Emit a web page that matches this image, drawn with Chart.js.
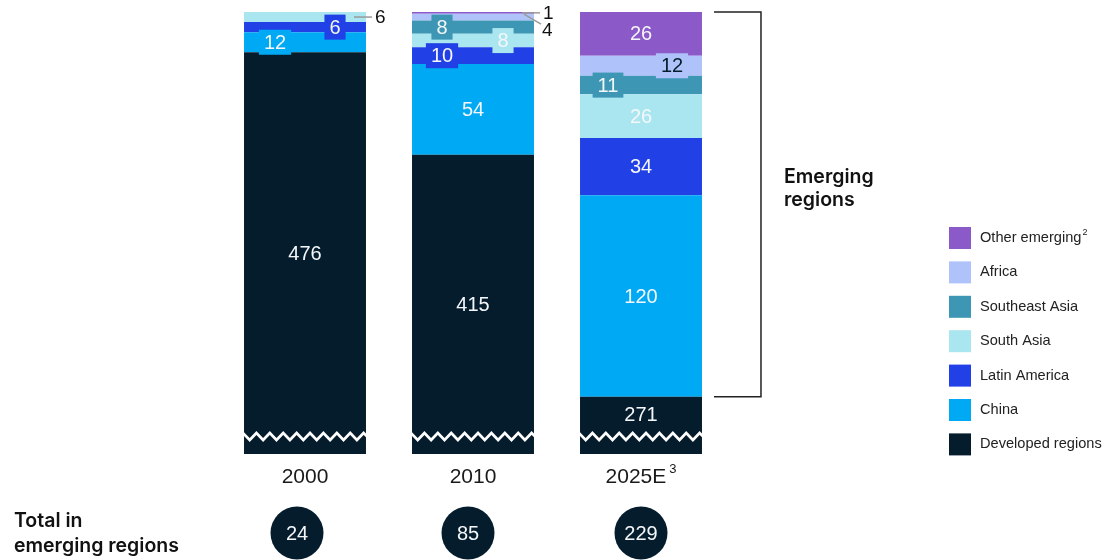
<!DOCTYPE html>
<html>
<head>
<meta charset="utf-8">
<script src="https://cdn.jsdelivr.net/npm/chart.js@4.4.0/dist/chart.umd.min.js"></script>
<style>
  html, body { margin: 0; padding: 0; background: #fff; }
  #wrap { width: 1117px; height: 560px; position: relative; }
</style>
</head>
<body>
<div id="wrap"><canvas id="chart" width="1117" height="560"></canvas></div>
<script>
// Datos del gráfico (millones, por región)
const years = ["2000", "2010", "2025E"];
const yearNotes = ["", "", "3"];
const developed = [476, 415, 271];
const china = [12, 54, 120];
const latinAmerica = [6, 10, 34];
const southAsia = [6, 8, 26];
const southeastAsia = [0, 8, 11];
const africa = [0, 4, 12];
const otherEmerging = [0, 1, 26];
const totalEmerging = [24, 85, 229];

// eje cortado: la barra de regiones desarrolladas no empieza en cero
const yMin = 237;
const yMax = 500;

const NUM_FONT = '"Liberation Sans", Arial, sans-serif';
const BOLD_FONT = 'Inter, "Liberation Sans", sans-serif';
const DARK = "#051C2C";

// dónde va cada número: "mid" centrado, box = caja desplazada, out = fuera con línea guía
const labelPlacement = {
    "Developed regions": ["mid", "mid", "mid"],
    "China": [{ box: -30 }, "mid", "mid"],
    "Latin America": [{ box: 30 }, { box: -31 }, "mid"],
    "South Asia": [{ out: "flat" }, { box: 30 }, "mid"],
    "Southeast Asia": [null, { box: -31 }, { box: -33 }],
    "Africa": [null, { out: "slant" }, { box: 31, dark: true }],
    "Other emerging": [null, { out: "flat" }, "mid"]
};
// desplazamiento horizontal de los círculos de totales respecto a la barra
const circleShift = [-8, -5, 0];

const datasets = [
    { label: "Developed regions", data: developed, backgroundColor: "#051C2C" },
    { label: "China", data: china, backgroundColor: "#00A9F4" },
    { label: "Latin America", data: latinAmerica, backgroundColor: "#2140E6" },
    { label: "South Asia", data: southAsia, backgroundColor: "#AAE6F0" },
    { label: "Southeast Asia", data: southeastAsia, backgroundColor: "#3C96B4" },
    { label: "Africa", data: africa, backgroundColor: "#AFC3FA" },
    { label: "Other emerging", data: otherEmerging, backgroundColor: "#8C5AC8", note: "2" }
];

function zigzagTop(area) { return area.bottom - 22; }

const decorations = {
    id: "decorations",
    afterDatasetsDraw(chart) {
        const ctx = chart.ctx;
        const area = chart.chartArea;
        const base = chart.getDatasetMeta(0).data;

        // zigzag de corte en cada barra
        ctx.save();
        ctx.strokeStyle = "#fff";
        ctx.lineWidth = 2.6;
        ctx.lineJoin = "miter";
        base.forEach(el => {
            const left = el.x - el.width / 2, right = el.x + el.width / 2;
            const top = zigzagTop(area) + 1, amp = 7, step = 6.7;
            ctx.save();
            ctx.beginPath();
            ctx.rect(left, area.top, el.width, area.bottom - area.top);
            ctx.clip();
            ctx.beginPath();
            let up = true;
            for (let x = left - 1; x <= right + step; x += step) {
                const yy = up ? top : top + amp;
                if (x === left - 1) ctx.moveTo(x, yy); else ctx.lineTo(x, yy);
                up = !up;
            }
            ctx.stroke();
            ctx.restore();
        });
        ctx.restore();

        // números de cada segmento
        ctx.save();
        ctx.font = "20px " + NUM_FONT;
        ctx.textBaseline = "middle";
        chart.data.datasets.forEach((ds, i) => {
            const meta = chart.getDatasetMeta(i);
            meta.data.forEach((el, j) => {
                const v = ds.data[j];
                const place = labelPlacement[ds.label][j];
                if (!v || !place) return;
                const top = Math.max(el.y, area.top);
                const bottom = Math.min(el.base, area.bottom);
                let cy = (top + bottom) / 2;
                if (i === 0) cy = Math.min(cy, zigzagTop(area) - 18);
                const txt = String(v);
                const right = el.x + el.width / 2;
                if (place === "mid") {
                    ctx.fillStyle = "#f4f7f9";
                    ctx.textAlign = "center";
                    ctx.fillText(txt, el.x, cy + 1);
                } else if (place.box !== undefined) {
                    const w = ctx.measureText(txt).width + 10;
                    const cx = el.x + place.box;
                    ctx.fillStyle = ds.backgroundColor;
                    ctx.fillRect(cx - w / 2, cy - 12.5, w, 25);
                    ctx.fillStyle = place.dark ? DARK : "#f4f7f9";
                    ctx.textAlign = "center";
                    ctx.fillText(txt, cx, cy + 1);
                } else if (place.out) {
                    ctx.strokeStyle = "#9a9a9a";
                    ctx.lineWidth = 1.5;
                    ctx.beginPath();
                    let tx, ty;
                    if (place.out === "flat") {
                        ctx.moveTo(right - 12, cy);
                        ctx.lineTo(right + 6, cy);
                        tx = right + 9; ty = cy;
                    } else {
                        ctx.moveTo(right - 10, cy - 3);
                        ctx.lineTo(right + 7, cy + 7);
                        tx = right + 8; ty = cy + 13;
                    }
                    ctx.stroke();
                    ctx.fillStyle = "#111";
                    ctx.textAlign = "left";
                    ctx.font = "19px " + NUM_FONT;
                    ctx.fillText(txt, tx, ty + 1);
                    ctx.font = "20px " + NUM_FONT;
                }
            });
        });
        ctx.restore();
    },
    afterDraw(chart) {
        const ctx = chart.ctx;
        const area = chart.chartArea;
        const base = chart.getDatasetMeta(0).data;

        ctx.save();
        // etiquetas de años
        ctx.fillStyle = "#1a1a1a";
        ctx.textBaseline = "middle";
        years.forEach((yr, j) => {
            const el = base[j];
            ctx.font = "21px " + NUM_FONT;
            const w = ctx.measureText(yr).width;
            ctx.font = "13px " + NUM_FONT;
            const nw = yearNotes[j] ? ctx.measureText(yearNotes[j]).width + 3 : 0;
            const x0 = el.x - (w + nw) / 2;
            ctx.textAlign = "left";
            ctx.font = "21px " + NUM_FONT;
            ctx.fillText(yr, x0, area.bottom + 23);
            if (yearNotes[j]) {
                ctx.font = "13px " + NUM_FONT;
                ctx.fillText(yearNotes[j], x0 + w + 3, area.bottom + 15);
            }
        });

        // llave de "Emerging regions" sobre la barra 2025E
        const last = base[base.length - 1];
        const bx = last.x + last.width / 2;
        const topY = chart.scales.y.getPixelForValue(yMax);
        const botY = last.y;
        ctx.strokeStyle = "#222";
        ctx.lineWidth = 1.5;
        ctx.beginPath();
        ctx.moveTo(bx + 12, topY);
        ctx.lineTo(bx + 59, topY);
        ctx.lineTo(bx + 59, botY);
        ctx.lineTo(bx + 12, botY);
        ctx.stroke();
        ctx.fillStyle = "#111";
        ctx.font = "600 19.5px " + BOLD_FONT;
        ctx.textAlign = "left";
        ctx.fillText("Emerging", bx + 82, 177);
        ctx.fillText("regions", bx + 82, 200);

        // leyenda
        const items = chart.data.datasets.slice().reverse();
        items.forEach((ds, k) => {
            const cy = 238 + k * 34.4;
            ctx.fillStyle = ds.backgroundColor;
            ctx.fillRect(949, cy - 11, 22, 22);
            ctx.fillStyle = "#222";
            ctx.font = "14.6px " + NUM_FONT;
            ctx.fillText(ds.label, 980, cy);
            if (ds.note) {
                const w = ctx.measureText(ds.label).width;
                ctx.font = "9px " + NUM_FONT;
                ctx.fillText(ds.note, 981 + w, cy - 5);
            }
        });

        // totales de regiones emergentes
        ctx.fillStyle = "#111";
        ctx.font = "600 19.5px " + BOLD_FONT;
        ctx.fillText("Total in", 14, 521);
        ctx.fillText("emerging regions", 14, 546);
        totalEmerging.forEach((t, j) => {
            const cx = base[j].x + circleShift[j];
            ctx.fillStyle = DARK;
            ctx.beginPath();
            ctx.arc(cx, 533, 26.5, 0, Math.PI * 2);
            ctx.fill();
            ctx.fillStyle = "#f4f7f9";
            ctx.font = "20px " + NUM_FONT;
            ctx.textAlign = "center";
            ctx.fillText(String(t), cx, 534);
            ctx.textAlign = "left";
        });
        ctx.restore();
    }
};

new Chart(document.getElementById("chart").getContext("2d"), {
    type: "bar",
    data: { labels: years, datasets: datasets },
    options: {
        responsive: false,
        animation: false,
        layout: { padding: { left: 221, right: 392, top: 12, bottom: 106 } },
        datasets: { bar: { categoryPercentage: 1, barPercentage: 0.726, borderWidth: 0 } },
        scales: {
            x: { stacked: true, display: false },
            y: { stacked: true, display: false, min: yMin, max: yMax }
        },
        plugins: { legend: { display: false }, tooltip: { enabled: false } }
    },
    plugins: [decorations]
});
</script>
</body>
</html>
